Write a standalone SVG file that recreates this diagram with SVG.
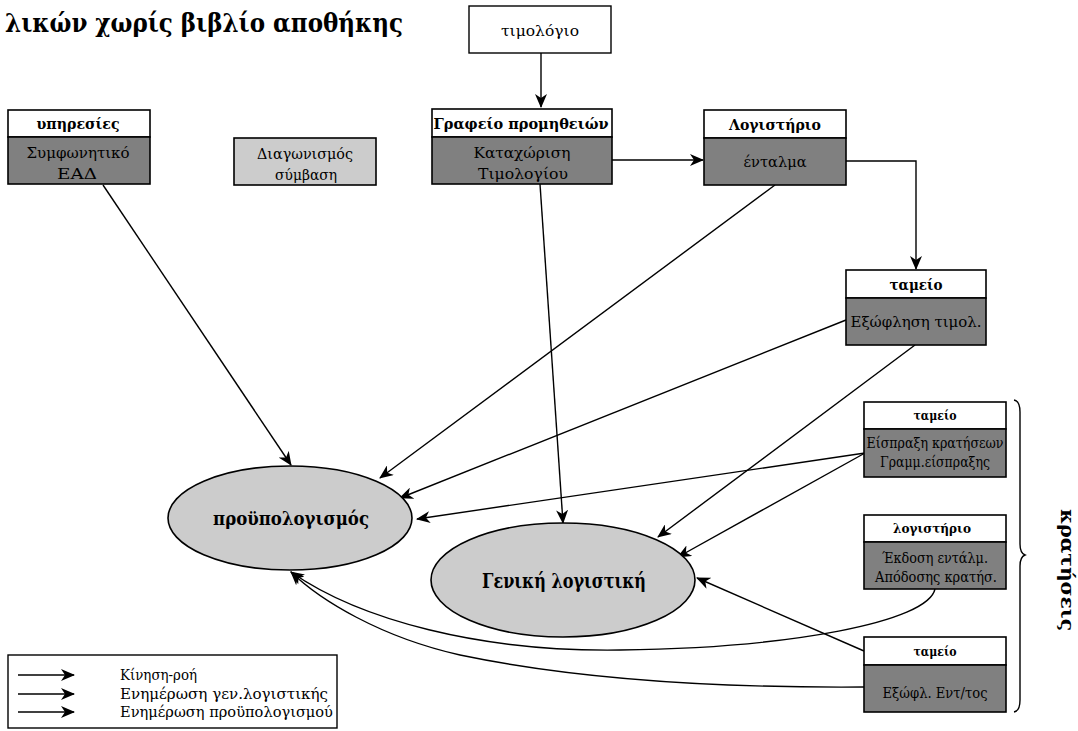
<svg xmlns="http://www.w3.org/2000/svg" width="1078" height="731" viewBox="0 0 1078 731">
<style>
text{font-family:"DejaVu Serif","Liberation Serif",serif;fill:#000}
.hd{fill:#fff;stroke:#000;stroke-width:1.6}
.bd{fill:#808080;stroke:#000;stroke-width:1.6}
.lt{fill:#cccccc;stroke:#000;stroke-width:1.6}
.wh{fill:#fff;stroke:#000;stroke-width:1.4}
.ht{font-weight:bold;font-size:15.5px;text-anchor:middle}
.hs{font-weight:bold;font-size:13px;text-anchor:middle}
.bt{font-size:15.5px;text-anchor:middle}
.bs{font-size:14px;text-anchor:middle}
.ln{fill:none;stroke:#000;stroke-width:1.4}
.el{fill:#cccccc;stroke:#000;stroke-width:1.6}
.lg{font-size:14.5px}
</style>
<defs>
<marker id="ah" markerWidth="14" markerHeight="12" refX="13" refY="6" orient="auto" markerUnits="userSpaceOnUse">
<path d="M0,0 L14,6 L0,12 L4,6 z" fill="#000"/>
</marker>
</defs>
<rect width="1078" height="731" fill="#fff"/>
<text x="5" y="32" textLength="398" lengthAdjust="spacingAndGlyphs" style="font-weight:bold;font-size:26px">λικών χωρίς βιβλίο αποθήκης</text>

<g id="connectors">
<path class="ln" d="M541,53 L541,107" marker-end="url(#ah)"/>
<path class="ln" d="M612,160 L703,160" marker-end="url(#ah)"/>
<path class="ln" d="M846,161 L916,161 L916,269" marker-end="url(#ah)"/>
<path class="ln" d="M103,185 L291,465" marker-end="url(#ah)"/>
<path class="ln" d="M775,185 L380,478" marker-end="url(#ah)"/>
<path class="ln" d="M846,320 L400,498" marker-end="url(#ah)"/>
<path class="ln" d="M540,184 L563,523" marker-end="url(#ah)"/>
<path class="ln" d="M915,345 L658,537" marker-end="url(#ah)"/>
<path class="ln" d="M865,453 L417,519" marker-end="url(#ah)"/>
<path class="ln" d="M865,453 L678,557" marker-end="url(#ah)"/>
<path class="ln" d="M864,651 L697,578" marker-end="url(#ah)"/>
<path class="ln" d="M935,589 C928,622 790,648 620,650 C480,652 360,620 291,572" marker-end="url(#ah)"/>
<path class="ln" d="M864,687 C720,688 580,680 460,655 C380,637 320,600 291,572" marker-end="url(#ah)"/>
</g>

<g id="n-timologio">
<rect class="wh" x="469" y="6" width="142" height="47"/>
<text class="bt" x="540" y="36" textLength="78" lengthAdjust="spacingAndGlyphs">τιμολόγιο</text>
</g>

<g id="n-ypiresies">
<rect class="hd" x="8" y="110" width="142" height="27"/>
<rect class="bd" x="8" y="137" width="142" height="47"/>
<text class="ht" x="78" y="129" textLength="83" lengthAdjust="spacingAndGlyphs">υπηρεσίες</text>
<text class="bt" x="78" y="158" textLength="103" lengthAdjust="spacingAndGlyphs">Συμφωνητικό</text>
<text class="bt" x="77" y="179" textLength="40" lengthAdjust="spacingAndGlyphs">ΕΑΔ</text>
</g>

<g id="n-diagonismos">
<rect class="lt" x="234" y="138" width="142" height="47"/>
<text class="bt" x="305" y="159" textLength="96" lengthAdjust="spacingAndGlyphs">Διαγωνισμός</text>
<text class="bt" x="306" y="180" textLength="62" lengthAdjust="spacingAndGlyphs">σύμβαση</text>
</g>

<g id="n-grafeio">
<rect class="hd" x="432" y="109" width="180" height="28"/>
<rect class="bd" x="432" y="137" width="180" height="47"/>
<text class="ht" x="521" y="129" textLength="175" lengthAdjust="spacingAndGlyphs">Γραφείο προμηθειών</text>
<text class="bt" x="522" y="158" textLength="97" lengthAdjust="spacingAndGlyphs">Καταχώριση</text>
<text class="bt" x="523" y="179" textLength="90" lengthAdjust="spacingAndGlyphs">Τιμολογίου</text>
</g>

<g id="n-logistirio">
<rect class="hd" x="704" y="110" width="142" height="28"/>
<rect class="bd" x="704" y="138" width="142" height="47"/>
<text class="ht" x="775" y="130" textLength="92" lengthAdjust="spacingAndGlyphs">Λογιστήριο</text>
<text class="bt" x="775" y="167" textLength="63" lengthAdjust="spacingAndGlyphs">ένταλμα</text>
</g>

<g id="n-tameio1">
<rect class="hd" x="846" y="270" width="140" height="28"/>
<rect class="bd" x="846" y="298" width="140" height="47"/>
<text class="ht" x="916" y="290" textLength="53" lengthAdjust="spacingAndGlyphs">ταμείο</text>
<text class="bt" x="916" y="327" textLength="131" lengthAdjust="spacingAndGlyphs">Εξώφληση τιμολ.</text>
</g>

<g id="n-tameio2">
<rect class="hd" x="864" y="402" width="142" height="27"/>
<rect class="bd" x="864" y="429" width="142" height="48"/>
<text class="hs" x="935" y="420" textLength="43" lengthAdjust="spacingAndGlyphs">ταμείο</text>
<text class="bs" x="935" y="448" textLength="137" lengthAdjust="spacingAndGlyphs">Είσπραξη κρατήσεων</text>
<text class="bs" x="935" y="467" textLength="110" lengthAdjust="spacingAndGlyphs">Γραμμ.είσπραξης</text>
</g>

<g id="n-logistirio2">
<rect class="hd" x="864" y="515" width="142" height="27"/>
<rect class="bd" x="864" y="542" width="142" height="47"/>
<text class="hs" x="932" y="533" textLength="78" lengthAdjust="spacingAndGlyphs">λογιστήριο</text>
<text class="bs" x="935" y="563" textLength="106" lengthAdjust="spacingAndGlyphs">Έκδοση εντάλμ.</text>
<text class="bs" x="936" y="582" textLength="122" lengthAdjust="spacingAndGlyphs">Απόδοσης κρατήσ.</text>
</g>

<g id="n-tameio3">
<rect class="hd" x="864" y="637" width="142" height="28"/>
<rect class="bd" x="864" y="665" width="142" height="47"/>
<text class="hs" x="935" y="656" textLength="43" lengthAdjust="spacingAndGlyphs">ταμείο</text>
<text class="bs" x="935" y="698" textLength="105" lengthAdjust="spacingAndGlyphs">Εξώφλ. Εντ/τος</text>
</g>

<g id="n-proypologismos">
<ellipse class="el" cx="290" cy="518" rx="122" ry="52"/>
<text x="291" y="525" text-anchor="middle" textLength="156" lengthAdjust="spacingAndGlyphs" style="font-weight:bold;font-size:18.5px">προϋπολογισμός</text>
</g>

<g id="n-geniki">
<ellipse class="el" cx="563" cy="580" rx="132" ry="57"/>
<text x="564" y="588" text-anchor="middle" textLength="164" lengthAdjust="spacingAndGlyphs" style="font-weight:bold;font-size:19.5px">Γενική λογιστική</text>
</g>

<g id="kratiseis">
<path class="ln" d="M1014,400 Q1020,401 1020,412 L1020,544 Q1020,553 1025,555 Q1020,557 1020,566 L1020,700 Q1020,711 1014,712"/>
<text transform="translate(1061,570) rotate(90)" text-anchor="middle" textLength="122" lengthAdjust="spacingAndGlyphs" style="font-weight:bold;font-size:19px">κρατήσεις</text>
</g>

<g id="legend">
<rect class="wh" x="8" y="655" width="329" height="73"/>
<path class="ln" d="M18,675 L74,675" marker-end="url(#ah)"/>
<path class="ln" d="M18,694 L74,694" marker-end="url(#ah)"/>
<path class="ln" d="M18,712 L74,712" marker-end="url(#ah)"/>
<text class="lg" x="120" y="680" textLength="77" lengthAdjust="spacingAndGlyphs">Κίνηση-ροή</text>
<text class="lg" x="120" y="699" textLength="208" lengthAdjust="spacingAndGlyphs">Ενημέρωση γεν.λογιστικής</text>
<text class="lg" x="120" y="717" textLength="213" lengthAdjust="spacingAndGlyphs">Ενημέρωση προϋπολογισμού</text>
</g>
</svg>
